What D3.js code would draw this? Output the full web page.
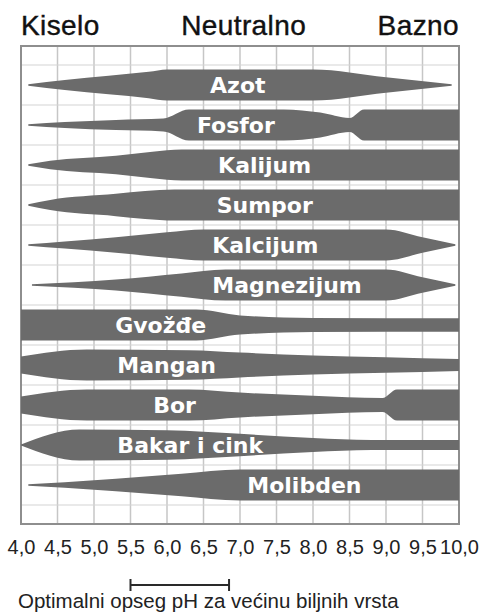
<!DOCTYPE html>
<html>
<head>
<meta charset="utf-8">
<script src="https://cdn.jsdelivr.net/npm/d3@7"></script>
<style>
  html, body { margin: 0; padding: 0; background: #fff; }
  svg { display: block; }
</style>
</head>
<body>
<div id="chart"></div>
<script>
// pH scale ends and ticks
const phTicks = [4.0, 4.5, 5.0, 5.5, 6.0, 6.5, 7.0, 7.5, 8.0, 8.5, 9.0, 9.5, 10.0];
const headings = ["Kiselo", "Neutralno", "Bazno"];
const optimalRange = [5.5, 6.85];
const legendText = "Optimalni opseg pH za većinu biljnih vrsta";

const nutrients = ["Azot", "Fosfor", "Kalijum", "Sumpor", "Kalcijum", "Magnezijum",
                   "Gvožđe", "Mangan", "Bor", "Bakar i cink", "Molibden"];

// availability (0..1) read along pH for each nutrient
const azot       = [[4.1, .05], [4.6, .33], [5.2, .6], [5.75, .85], [6.0, 1], [8.0, 1], [9.0, .5], [9.9, .05]];
const fosfor     = [[4.1, .05], [4.6, .2], [5.3, .33], [5.95, .42], [6.3, 1], [7.6, 1], [8.1, .8], [8.5, .45], [8.7, 1], [10, 1]];
const kalijum    = [[4.1, .05], [4.4, .27], [5.3, .6], [5.8, .85], [6.2, 1], [10, 1]];
const sumpor     = [[4.1, .05], [4.4, .33], [5.3, .72], [5.7, .9], [6.1, 1], [10, 1]];
const kalcijum   = [[4.1, .05], [4.6, .23], [5.3, .5], [6.0, .82], [6.5, 1], [9.0, 1], [9.5, .5], [9.95, .05]];
const magnezijum = [[4.15, .05], [5.3, .35], [6.2, .75], [6.8, 1], [9.0, 1], [9.5, .5], [9.95, .05]];
const gvozdje    = [[4.0, 1], [6.4, 1], [7.0, .62], [8.0, .45], [10, .43]];
const mangan     = [[4.0, .55], [4.9, 1], [6.3, .95], [7.0, .8], [8.0, .62], [9.0, .5], [10, .38]];
const bor        = [[4.0, .55], [4.9, 1], [6.3, 1], [7.0, .8], [8.0, .6], [8.95, .45], [9.15, 1], [10, 1]];
const bakarCink  = [[4.0, .03], [4.8, 1], [6.0, .95], [7.0, .72], [8.0, .45], [8.8, .33], [10, .32]];
const molibden   = [[4.1, .05], [4.6, .17], [5.3, .4], [6.2, .72], [7.0, 1], [10, 1]];

const profiles = [azot, fosfor, kalijum, sumpor, kalcijum, magnezijum,
                  gvozdje, mangan, bor, bakarCink, molibden];

// pH where each label starts
const labelAt = [6.59, 6.41, 6.7, 6.68, 6.62, 6.62, 5.29, 5.32, 5.81, 5.32, 7.1];

const width = 483, height = 614;
const plot = {left: 21, right: 459, top: 46, bottom: 524};

const svg = d3.select("#chart").append("svg")
    .attr("width", width)
    .attr("height", height);

const x = d3.scaleLinear().domain([4, 10]).range([plot.left, plot.right]);
const y = d3.scaleBand().domain(nutrients).range([65, 505]);
const half = d3.scaleLinear().domain([0, 1]).range([0, 15.5]);

// grid
const grid = svg.append("g");
grid.selectAll("line.v")
    .data(phTicks.slice(1, -1))
    .join("line")
    .attr("x1", d => x(d)).attr("x2", d => x(d))
    .attr("y1", plot.top).attr("y2", plot.bottom)
    .attr("stroke", "#c6c6c6").attr("stroke-width", 1.5);

const rowEdges = nutrients.map(n => y(n)).concat([y.range()[1]]);
grid.selectAll("line.h")
    .data(rowEdges)
    .join("line")
    .attr("x1", plot.left).attr("x2", plot.right)
    .attr("y1", d => d).attr("y2", d => d)
    .attr("stroke", "#d4d4d4").attr("stroke-width", 1.2);

svg.append("rect")
    .attr("x", plot.left).attr("y", plot.top)
    .attr("width", plot.right - plot.left)
    .attr("height", plot.bottom - plot.top)
    .attr("fill", "none")
    .attr("stroke", "#8e8e8e")
    .attr("stroke-width", 2);

// bands
const area = d3.area()
    .curve(d3.curveMonotoneX)
    .x(d => x(d[0]));

const bands = svg.append("g");
nutrients.forEach((n, i) => {
    const cy = y(n) + y.bandwidth() / 2;
    bands.append("path")
        .datum(profiles[i])
        .attr("fill", "#6b6b6b")
        .attr("d", area.y0(d => cy - half(d[1])).y1(d => cy + half(d[1])));
    bands.append("text")
        .attr("x", x(labelAt[i]))
        .attr("y", cy + 8)
        .attr("fill", "#fff")
        .attr("font-family", "DejaVu Sans")
        .attr("font-weight", "bold")
        .attr("font-size", 22)
        .text(n);
});

// headings
svg.selectAll("text.head")
    .data(headings)
    .join("text")
    .attr("class", "head")
    .attr("x", (d, i) => [plot.left, x(7.05), plot.right][i])
    .attr("y", 35)
    .attr("text-anchor", (d, i) => ["start", "middle", "end"][i])
    .attr("font-family", "Liberation Sans, Arial, sans-serif")
    .attr("font-size", 28)
    .attr("letter-spacing", 0.4)
    .attr("stroke", "#111")
    .attr("stroke-width", 0.4)
    .attr("fill", "#111")
    .text(d => d);

// pH axis labels
const fmt = d3.formatLocale({decimal: ",", thousands: ".", grouping: [3], currency: ["", ""]}).format(".1f");
const axis = d3.axisBottom(x).tickValues(phTicks).tickFormat(fmt).tickSize(0).tickPadding(0);
const ax = svg.append("g")
    .attr("transform", `translate(0,${plot.bottom + 16})`)
    .call(axis);
ax.select(".domain").remove();
ax.selectAll("text")
    .attr("font-family", "Liberation Sans, Arial, sans-serif")
    .attr("font-size", 20)
    .attr("fill", "#222");

// optimal range legend
const leg = svg.append("g").attr("stroke", "#2a2a2a").attr("stroke-width", 2);
leg.append("line")
    .attr("x1", x(optimalRange[0])).attr("x2", x(optimalRange[1]))
    .attr("y1", 585).attr("y2", 585);
leg.selectAll("line.cap")
    .data(optimalRange)
    .join("line")
    .attr("x1", d => x(d)).attr("x2", d => x(d))
    .attr("y1", 579).attr("y2", 591);

svg.append("text")
    .attr("x", 18)
    .attr("y", 608)
    .attr("font-family", "Liberation Sans, Arial, sans-serif")
    .attr("font-size", 20.5)
    .attr("fill", "#222")
    .text(legendText);
</script>
</body>
</html>
